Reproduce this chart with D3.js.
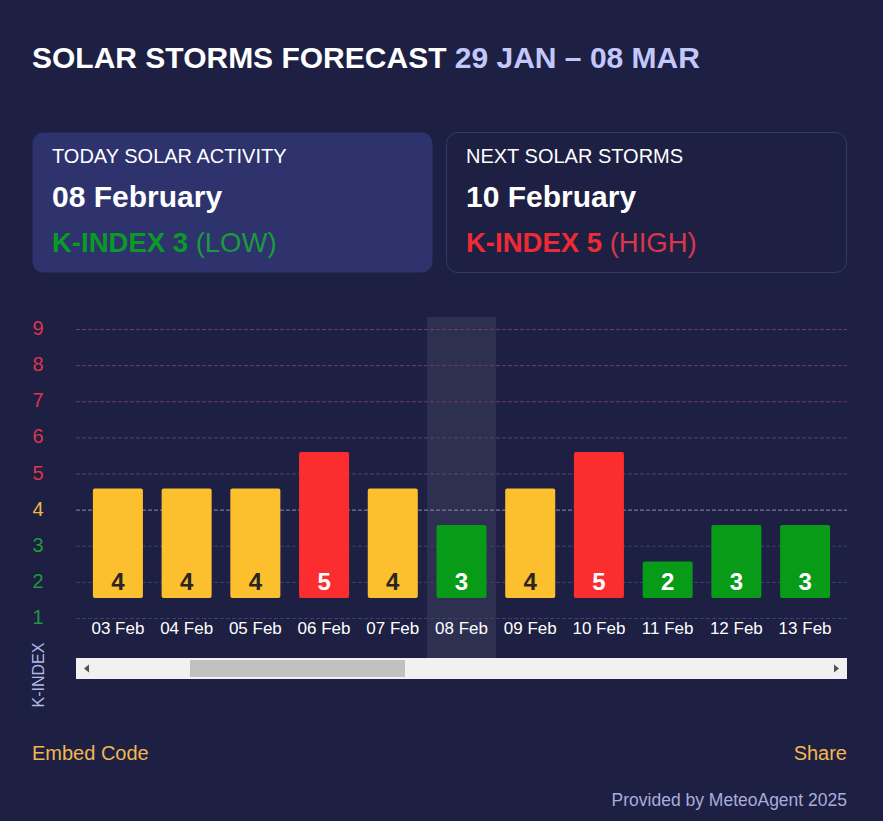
<!DOCTYPE html>
<html>
<head>
<meta charset="utf-8">
<script src="https://cdn.jsdelivr.net/npm/d3@7"></script>
<style>
  html, body { margin: 0; padding: 0; background: #1d1f43; }
  svg { display: block; font-family: "Liberation Sans", Arial, sans-serif; }
</style>
</head>
<body>
<script>
// chart data
const dates = ["03 Feb", "04 Feb", "05 Feb", "06 Feb", "07 Feb", "08 Feb", "09 Feb", "10 Feb", "11 Feb", "12 Feb", "13 Feb"];
const kIndex = [4, 4, 4, 5, 4, 3, 4, 5, 2, 3, 3];
const yTicks = [1, 2, 3, 4, 5, 6, 7, 8, 9];
const todayDate = "08 Feb";

const width = 883;
const height = 821;

const kColor = k => k >= 5 ? "#fc2d2f" : k === 4 ? "#fcbf2d" : "#089b17";
const tickColor = k => k >= 5 ? "#dc3450" : k === 4 ? "#f2b54a" : "#1f993a";
const gridColor = k => k >= 5 ? "#6c3a6e" : k === 4 ? "#8c8ca6" : "#3c4070";

const svg = d3.select("body").append("svg")
  .attr("width", width)
  .attr("height", height);

svg.append("rect").attr("width", width).attr("height", height).attr("fill", "#1d1f43");

// title
const title = svg.append("text")
  .attr("x", 32).attr("y", 68)
  .style("font-size", "30px").style("font-weight", "bold");
title.append("tspan").attr("fill", "#ffffff").text("SOLAR STORMS FORECAST ");
title.append("tspan").attr("fill", "#c3c8fb").text("29 JAN \u2013 08 MAR");

// summary cards
const cards = [
  { x: 32, label: "TODAY SOLAR ACTIVITY", date: "08 February", k: 3, level: "LOW", fill: "#2e336e", stroke: "none" },
  { x: 446, label: "NEXT SOLAR STORMS", date: "10 February", k: 5, level: "HIGH", fill: "none", stroke: "#353a6c" }
];

const card = svg.selectAll(".card")
  .data(cards)
  .enter().append("g")
  .attr("class", "card")
  .attr("transform", d => `translate(${d.x},132)`);

card.append("rect")
  .attr("x", 0.5).attr("y", 0.5)
  .attr("width", 400).attr("height", 140)
  .attr("rx", 11)
  .attr("fill", d => d.fill)
  .attr("stroke", d => d.stroke);

card.append("text")
  .attr("x", 20).attr("y", 31)
  .attr("fill", "#ffffff")
  .style("font-size", "20px")
  .text(d => d.label);

card.append("text")
  .attr("x", 20).attr("y", 75)
  .attr("fill", "#ffffff")
  .style("font-size", "30px").style("font-weight", "bold")
  .text(d => d.date);

const kLine = card.append("text")
  .attr("x", 20).attr("y", 120)
  .style("font-size", "27.5px");
kLine.append("tspan")
  .attr("fill", d => d.k >= 5 ? "#ee2b35" : "#0b9a26")
  .style("font-weight", "bold")
  .text(d => `K-INDEX ${d.k}`);
kLine.append("tspan")
  .attr("fill", d => d.k >= 5 ? "#d8364a" : "#1b9a3a")
  .text(d => ` (${d.level})`);

// scales
const x = d3.scaleBand()
  .domain(dates)
  .range([76, 847])
  .paddingInner(0.272)
  .paddingOuter(0.246);

const y = d3.scaleLinear().domain([1, 9]).range([598, 306]);
const yGrid = d3.scaleLinear().domain([1, 9]).range([618, 329]);

// highlight column for today
const gap = x.step() - x.bandwidth();
svg.append("rect")
  .attr("x", x(todayDate) - gap / 2)
  .attr("y", 317)
  .attr("width", x.step())
  .attr("height", 343)
  .attr("fill", "rgba(255,255,255,0.08)");

// gridlines
svg.selectAll(".grid")
  .data(yTicks)
  .enter().append("line")
  .attr("class", "grid")
  .attr("x1", 76).attr("x2", 847)
  .attr("y1", d => yGrid(d) + 0.5).attr("y2", d => yGrid(d) + 0.5)
  .attr("stroke", d => gridColor(d))
  .attr("stroke-width", 1)
  .attr("stroke-dasharray", "4,2");

// y tick labels
svg.selectAll(".ytick")
  .data(yTicks)
  .enter().append("text")
  .attr("class", "ytick")
  .attr("x", 38)
  .attr("y", d => yGrid(d) + 6)
  .attr("text-anchor", "middle")
  .attr("fill", d => tickColor(d))
  .style("font-size", "20px")
  .text(d => d);

// bars
const bars = dates.map((d, i) => ({ date: d, k: kIndex[i] }));

svg.selectAll(".bar")
  .data(bars)
  .enter().append("rect")
  .attr("class", "bar")
  .attr("x", d => x(d.date))
  .attr("y", d => y(d.k))
  .attr("width", x.bandwidth())
  .attr("height", d => y(1) - y(d.k))
  .attr("rx", 2)
  .attr("fill", d => kColor(d.k));

svg.selectAll(".barlabel")
  .data(bars)
  .enter().append("text")
  .attr("class", "barlabel")
  .attr("x", d => x(d.date) + x.bandwidth() / 2)
  .attr("y", y(1) - 8)
  .attr("text-anchor", "middle")
  .attr("fill", d => d.k === 4 ? "#2a2520" : "#ffffff")
  .style("font-size", "24px").style("font-weight", "bold")
  .text(d => d.k);

// x labels
svg.append("g")
  .attr("transform", "translate(0,613)")
  .call(d3.axisBottom(x).tickSize(0).tickPadding(0))
  .call(g => g.select(".domain").remove())
  .selectAll("text")
  .attr("dy", "0.71em")
  .attr("y", 9)
  .attr("fill", "#ffffff")
  .style("font-size", "17px")
  .style("font-family", "\"Liberation Sans\", Arial, sans-serif");

// axis title
svg.append("text")
  .attr("transform", "translate(44,675) rotate(-90)")
  .attr("text-anchor", "middle")
  .attr("fill", "#b3b8e6")
  .style("font-size", "16px")
  .text("K-INDEX");

// scrollbar
svg.append("rect")
  .attr("x", 76).attr("y", 658)
  .attr("width", 771).attr("height", 21)
  .attr("fill", "#f1f1f1");
svg.append("rect")
  .attr("x", 190).attr("y", 660)
  .attr("width", 215).attr("height", 17)
  .attr("fill", "#c1c1c1");
svg.append("path")
  .attr("d", "M84,668.5 L89,664.5 L89,672.5 Z")
  .attr("fill", "#505050");
svg.append("path")
  .attr("d", "M839,668.5 L834,664.5 L834,672.5 Z")
  .attr("fill", "#505050");

// footer
svg.append("text")
  .attr("x", 32).attr("y", 760)
  .attr("fill", "#f4b650")
  .style("font-size", "20px")
  .text("Embed Code");
svg.append("text")
  .attr("x", 847).attr("y", 760)
  .attr("text-anchor", "end")
  .attr("fill", "#f4b650")
  .style("font-size", "20px")
  .text("Share");
svg.append("text")
  .attr("x", 847).attr("y", 806)
  .attr("text-anchor", "end")
  .attr("fill", "#a9addb")
  .style("font-size", "17.5px")
  .text("Provided by MeteoAgent 2025");
</script>
</body>
</html>
